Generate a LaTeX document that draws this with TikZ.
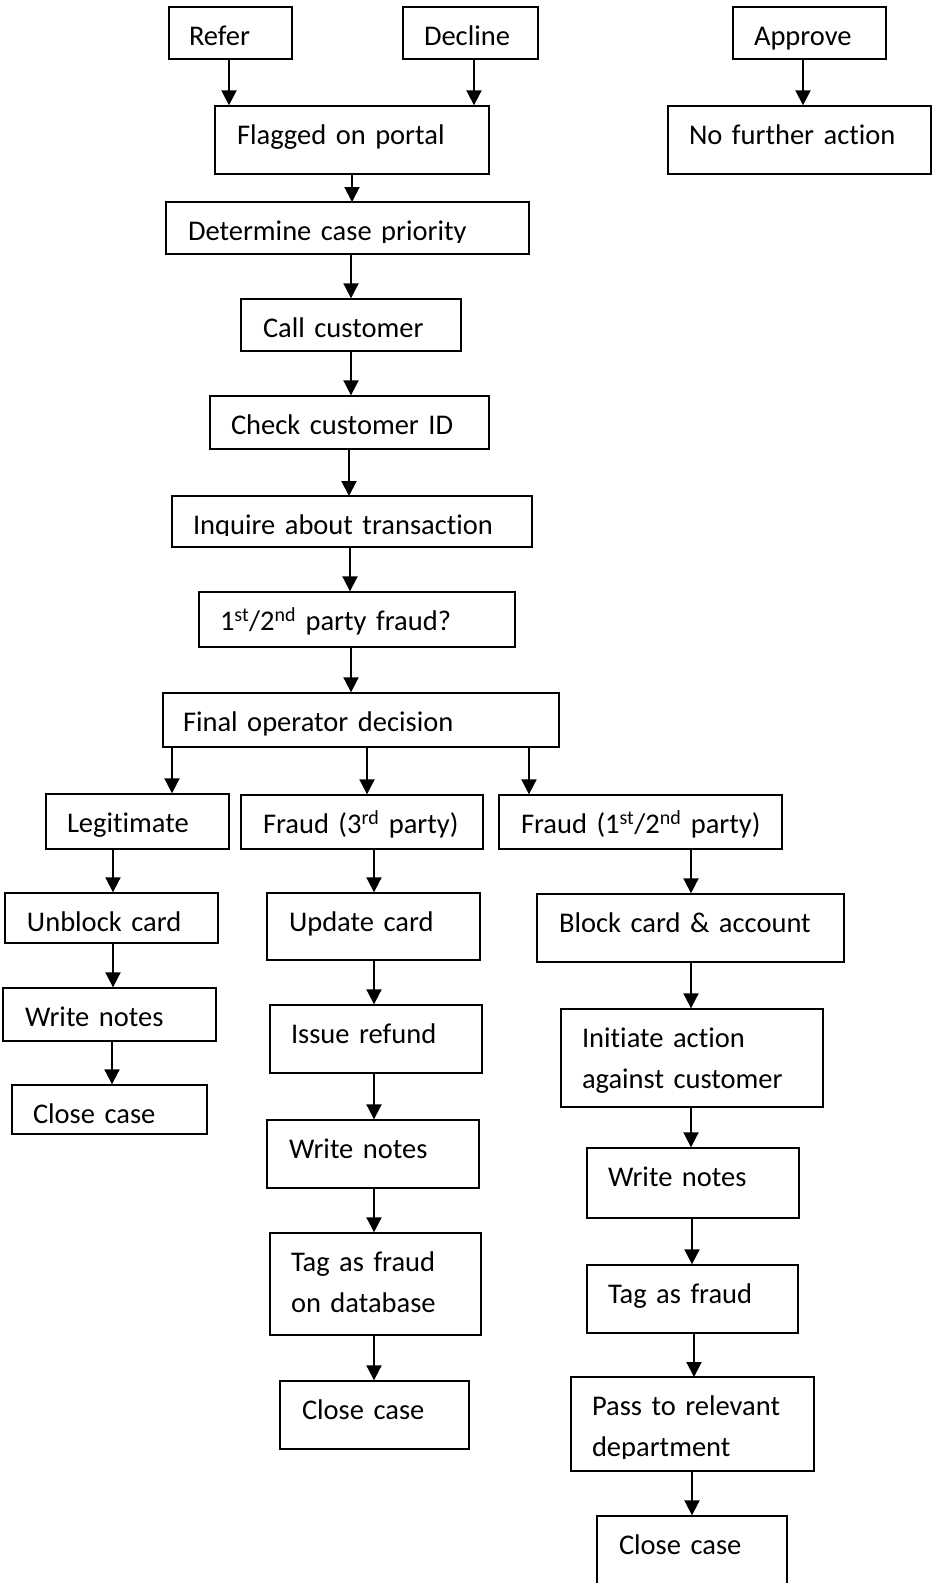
\documentclass[tikz,border=0pt]{standalone}
\usepackage{fontspec}
\setmainfont{Carlito}[Ligatures=NoCommon]
\usetikzlibrary{arrows.meta}

\tikzset{
  box/.style={draw, rectangle, line width=1.4pt, inner ysep=0pt, align=left,
              font=\fontsize{28.5}{41}\selectfont},
  arr/.style={-{Triangle[width=15pt,length=15pt]}, line width=2pt}
}

% #1 extra options, #2 name, #3 x1, #4 y1, #5 x2, #6 y2, #7 left padding, #8 text
\newcommand{\flowbox}[8][]{%
  \pgfmathsetmacro{\fbw}{#5-#3}%
  \pgfmathsetmacro{\fbh}{#6-#4}%
  \pgfmathsetmacro{\fbcx}{(#3+#5)/2}%
  \pgfmathsetmacro{\fbcy}{(#4+#6)/2}%
  \pgfmathsetmacro{\fbtw}{#5-#3-2*#7}%
  \pgfmathsetmacro{\fbdp}{#6-#4-38.5}%
  \node[box, minimum width=\fbw pt, minimum height=\fbh pt, text width=\fbtw pt,
        text height=38.5pt, text depth=\fbdp pt,
        inner xsep=#7pt, #1] (#2) at (\fbcx,\fbcy) {#8};%
}
% box whose text is cut off at #7 (y), like a clipped text frame
\newcommand{\clippedbox}[8]{%
  \begin{scope}
    \clip (#2,#3) rectangle (#4,#7);
    \flowbox[draw=none, outer sep=0pt]{#1}{#2}{#3}{#4}{#5}{#6}{#8}
  \end{scope}
  \draw[line width=1.4pt] (#1.south west) rectangle (#1.north east);%
}
% connector: #1 source, #2 target, #3 x position
\newcommand{\conn}[3]{\draw[arr] (#1.south -| #3,0) -- (#2.north -| #3,0);}

\begin{document}
\begin{tikzpicture}[x=1pt, y=-1pt]
\useasboundingbox (0,0) rectangle (932,1583);
\clip (0,0) rectangle (932,1583);

\flowbox{refer}{169}{7}{292}{59}{20}{Refer}
\flowbox{decline}{403}{7}{538}{59}{21}{Decline}
\flowbox{approve}{733}{7}{886}{59}{21}{Approve}
\flowbox{flag}{215}{106}{489}{174}{22}{Flagged on portal}
\flowbox{nofurther}{668}{106}{931}{174}{21}{No further action}
\clippedbox{determine}{166}{202}{529}{254}{22}{242}{Determine case priority}
\flowbox{call}{241}{299}{461}{351}{22}{Call customer}
\flowbox{check}{210}{396}{489}{449}{21}{Check customer ID}
\clippedbox{inquire}{172}{496}{532}{547}{21}{535.5}{Inquire about transaction}
\flowbox{party}{199}{592}{515}{647}{21}{1\textsuperscript{st}/2\textsuperscript{nd} party fraud?}
\flowbox{final}{163}{693}{559}{747}{20}{Final operator decision}
\flowbox{legit}{46}{794}{229}{849}{21}{Legitimate}
\flowbox{fraudA}{241}{795}{483}{849}{22}{\mbox{Fraud (3\textsuperscript{rd} party)}}
\flowbox{fraudB}{499}{795}{782}{849}{22}{\mbox{Fraud (1\textsuperscript{st}/2\textsuperscript{nd} party)}}

\flowbox{unblock}{5}{893}{218}{943}{22}{Unblock card}
\flowbox{notesL}{3}{988}{216}{1041}{22}{Write notes}
\flowbox{closeL}{12}{1085}{207}{1134}{21}{Close case}

\flowbox{update}{267}{893}{480}{960}{22}{Update card}
\flowbox{refund}{270}{1005}{482}{1073}{21}{Issue refund}
\flowbox{notesA}{267}{1120}{479}{1188}{22}{Write notes}
\flowbox{tagA}{270}{1233}{481}{1335}{21}{Tag as fraud\\on database}
\flowbox{closeA}{280}{1381}{469}{1449}{22}{Close case}

\flowbox{block}{537}{894}{844}{962}{22}{Block card \& account}
\flowbox{initiate}{561}{1009}{823}{1107}{21}{Initiate action\\against customer}
\flowbox{notesB}{587}{1148}{799}{1218}{21}{Write notes}
\flowbox{tagB}{587}{1265}{798}{1333}{21}{Tag as fraud}
\clippedbox{pass}{571}{1377}{814}{1471}{21}{1458}{Pass to relevant\\department}
\flowbox{closeB}{597}{1516}{787}{1592}{22}{Close case}

\conn{refer}{flag}{229}
\conn{decline}{flag}{474}
\conn{approve}{nofurther}{803}
\conn{flag}{determine}{352}
\conn{determine}{call}{351}
\conn{call}{check}{351}
\conn{check}{inquire}{349}
\conn{inquire}{party}{350}
\conn{party}{final}{351}
\conn{final}{legit}{172}
\conn{final}{fraudA}{367}
\conn{final}{fraudB}{529}
\conn{legit}{unblock}{113}
\conn{unblock}{notesL}{113}
\conn{notesL}{closeL}{112}
\conn{fraudA}{update}{374}
\conn{update}{refund}{374}
\conn{refund}{notesA}{374}
\conn{notesA}{tagA}{374}
\conn{tagA}{closeA}{374}
\conn{fraudB}{block}{691}
\conn{block}{initiate}{691}
\conn{initiate}{notesB}{691}
\conn{notesB}{tagB}{692}
\conn{tagB}{pass}{694}
\conn{pass}{closeB}{692}
\end{tikzpicture}
\end{document}
